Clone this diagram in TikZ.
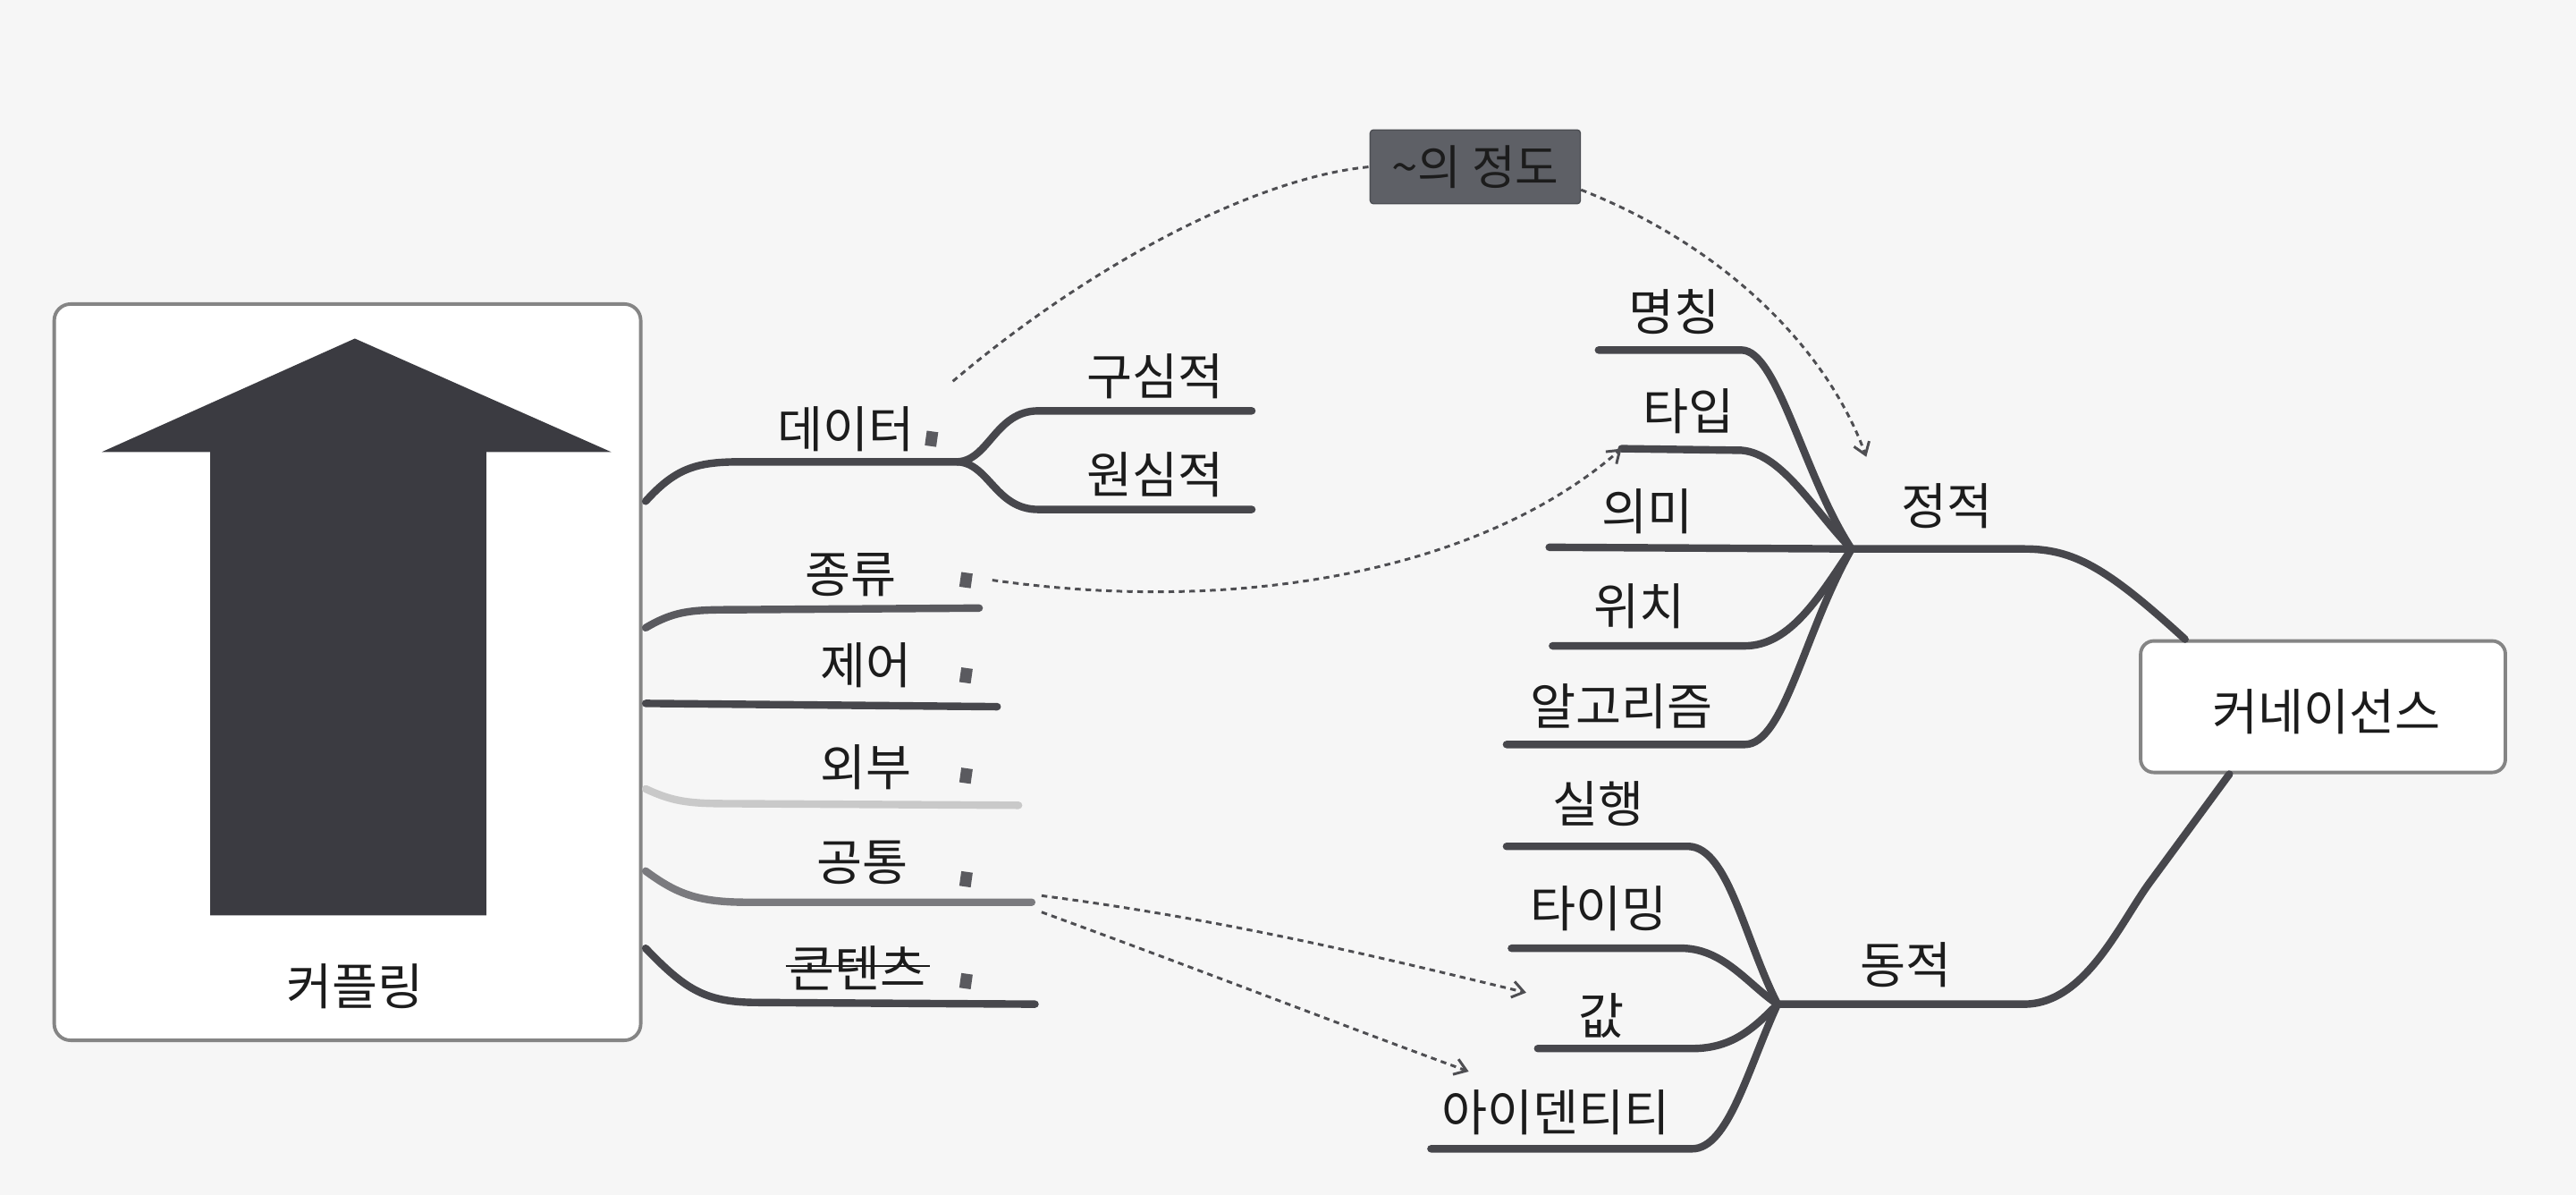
\documentclass[tikz,border=0pt]{standalone}
\usepackage{fontspec}
\setmainfont{Noto Sans CJK KR}
\usetikzlibrary{arrows.meta}
\definecolor{bg}{HTML}{F6F6F6}
\definecolor{ln}{HTML}{47474C}
\definecolor{lnmid}{HTML}{5A5A5F}
\definecolor{lngray}{HTML}{7A7A7E}
\definecolor{lnlight}{HTML}{C9C9C9}
\definecolor{boxline}{HTML}{858585}
\definecolor{arrowfill}{HTML}{3B3B41}
\definecolor{degfill}{HTML}{5E6066}
\definecolor{txt}{HTML}{1C1C1C}
\definecolor{dashc}{HTML}{4E4E52}
\begin{document}
\begin{tikzpicture}[x=0.5mm,y=-0.5mm,
  lbl/.style={inner sep=0pt,text=txt,font=\fontsize{43pt}{50pt}\selectfont},
  br/.style={draw=ln,line width=6.5pt,line cap=round},
  dsh/.style={draw=dashc,line width=2.3pt,dash pattern=on 5pt off 4pt},
  tip/.style={-{Straight Barb[length=10pt,width=14pt]}},
  notemark/.style={fill=lnmid,draw=none,minimum width=3.5mm,minimum height=4.5mm,inner sep=0pt,rotate=-8},
  bigbox/.style={draw=boxline,line width=3pt,rounded corners=5mm,fill=white}
]
\useasboundingbox[fill=bg] (0,0) rectangle (1568,727);

% left box with arrow
\node[bigbox,minimum width=178.5mm,minimum height=224mm] (cbox) at (211.5,409) {};
\fill[arrowfill] (216,206) -- (372,275) -- (296,275) -- (296,557) -- (128,557) -- (128,275) -- (62,275) -- cycle;
\node[lbl] (coupling) at (216,600) {커플링};

% right box
\node[bigbox,minimum width=111mm,minimum height=40mm,rounded corners=4mm] (conn) at (1414,430) {};
\node[lbl] (connt) at (1416,433) {커네이선스};

% degree box
\node[fill=degfill,draw=degfill!80!black,line width=1pt,rounded corners=1mm,minimum width=64mm,minimum height=22.5mm,inner sep=0pt,text=txt,font=\fontsize{41pt}{48pt}\selectfont] (deg) at (898,101.5) {\textasciitilde 의 정도};

% coordinates for branches
\coordinate (s1) at (393,305);
\coordinate (dfork) at (583,281);
\coordinate (gsEnd) at (762,250);
\coordinate (wsEnd) at (762,310);
\coordinate (s2) at (393,382);
\coordinate (e2) at (596,370);
\coordinate (s3) at (393,428);
\coordinate (e3) at (607,430);
\coordinate (s4) at (393,480);
\coordinate (e4) at (620,490);
\coordinate (s5) at (393,530);
\coordinate (e5) at (628,549);
\coordinate (s6) at (393,577);
\coordinate (e6) at (630,611);

% left branches
\draw[br] (s1) .. controls (412,284) and (425,281) .. (452,281) -- (dfork);
\draw[br] (dfork) .. controls (602,280) and (606,250) .. (632,250) -- (gsEnd);
\draw[br] (dfork) .. controls (602,282) and (606,310) .. (632,310) -- (wsEnd);
\draw[br,draw=lnmid] (s2) .. controls (410,372) and (420,371) .. (445,371) -- (e2);
\draw[br] (s3) -- (e3);
\draw[br,draw=lnlight] (s4) .. controls (410,488) and (420,489) .. (445,489) -- (e4);
\draw[br,draw=lngray] (s5) .. controls (412,544) and (425,549) .. (455,549) -- (e5);
\draw[br] (s6) .. controls (418,603) and (430,610) .. (462,610) -- (e6);

% left labels
\node[lbl] (data) at (515,261) {데이터};
\node[lbl] (gusim) at (703,229) {구심적};
\node[lbl] (wonsim) at (703,289) {원심적};
\node[lbl] (kind) at (518,350) {종류};
\node[lbl] (ctrl) at (527,405) {제어};
\node[lbl] (ext) at (527,467) {외부};
\node[lbl] (comm) at (525,525) {공통};
\node[lbl] (cont) at (522,589) {콘텐츠};
\draw[txt,line width=2pt] ([xshift=-1mm,yshift=0.6mm]cont.west) -- ([xshift=1mm,yshift=0.6mm]cont.east);

% note marks
\node[notemark] (m1) at (567,267) {};
\node[notemark] (m2) at (588,353) {};
\node[notemark] (m3) at (588,411) {};
\node[notemark] (m4) at (588,472) {};
\node[notemark] (m5) at (588,535) {};
\node[notemark] (m6) at (588,597) {};

% right: static
\coordinate (sh) at (1127,334);
\coordinate (a1) at (973,213);
\coordinate (a2) at (987,273);
\coordinate (a3) at (943,333);
\coordinate (a4) at (945,393);
\coordinate (a5) at (917,453);
\draw[br] (a1) -- (1060,213) .. controls (1082,213) and (1098,290) .. (sh);
\draw[br] (a2) -- (1060,274) .. controls (1085,276) and (1105,312) .. (sh);
\draw[br] (a3) -- (sh);
\draw[br] (a4) -- (1062,393) .. controls (1090,393) and (1108,362) .. (sh);
\draw[br] (a5) -- (1062,453) .. controls (1086,453) and (1098,385) .. (sh);
\draw[br] (sh) -- (1232,334) .. controls (1262,334) and (1282,345) .. (conn.north west -| 1330,0);

\node[lbl] (sta) at (1185,308) {정적};
\node[lbl] (name) at (1019,190) {명칭};
\node[lbl] (type) at (1028,250) {타입};
\node[lbl] (mean) at (1003,311) {의미};
\node[lbl] (pos) at (998,369) {위치};
\node[lbl] (algo) at (987,430) {알고리즘};

% right: dynamic
\coordinate (dh) at (1082,611);
\coordinate (b1) at (917,515);
\coordinate (b2) at (920,577);
\coordinate (b3) at (936,638);
\coordinate (b4) at (871,699);
\draw[br] (b1) -- (1028,515) .. controls (1052,516) and (1062,572) .. (dh);
\draw[br] (b2) -- (1025,577) .. controls (1050,578) and (1065,600) .. (dh);
\draw[br] (b3) -- (1030,638) .. controls (1055,638) and (1068,625) .. (dh);
\draw[br] (b4) -- (1030,699) .. controls (1052,699) and (1064,650) .. (dh);
\draw[br] (dh) -- (1232,611) .. controls (1270,611) and (1291,560) .. (1310,535) -- (conn.south west -| 1357,0);

\node[lbl] (dyn) at (1160,587) {동적};
\node[lbl] (exec) at (973,489) {실행};
\node[lbl] (timing) at (973,553) {타이밍};
\node[lbl] (val) at (975,618) {값};
\node[lbl] (ident) at (947,677) {아이덴티티};

% dashed connectors
\draw[dsh] ([shift={(6.5mm,17.5mm)}]m1.center) .. controls (665,160) and (765,108) .. (deg.west);
\draw[dsh,tip] ([yshift=-7mm]deg.east) .. controls (1050,150) and (1112,212) .. (1136,278);
\draw[dsh,tip] ([xshift=8mm]m2.center) .. controls (760,375) and (905,345) .. (a2);
\draw[dsh,tip] ([xshift=23mm,yshift=-5mm]m5.center) .. controls (750,560) and (850,585) .. (929,604);
\draw[dsh,tip] ([xshift=23mm,yshift=-10mm]m5.center) .. controls (730,590) and (820,625) .. (894,652);
\end{tikzpicture}
\end{document}
